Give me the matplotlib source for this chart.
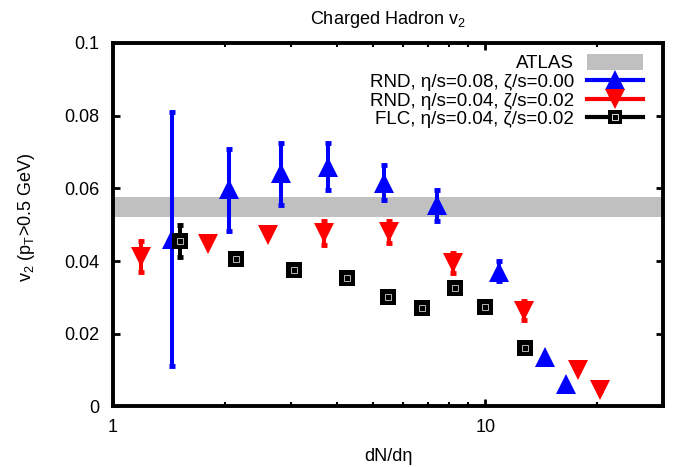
import matplotlib
matplotlib.use("Agg")
import matplotlib.pyplot as plt
from matplotlib.lines import Line2D
from matplotlib.patches import Patch
from matplotlib.legend_handler import HandlerTuple
import numpy as np

plt.rcParams['font.family'] = ['Liberation Sans', 'DejaVu Sans']
plt.rcParams['mathtext.fontset'] = 'custom'
plt.rcParams['mathtext.rm'] = 'Liberation Sans'
plt.rcParams['mathtext.it'] = 'Liberation Sans:italic'

# ATLAS band
atlas_lo, atlas_hi = 0.0522, 0.0576

# RND, eta/s=0.08, zeta/s=0.00
rnd1_x = [1.44, 2.05, 2.82, 3.78, 5.36, 7.42, 10.9, 14.5, 16.5]
rnd1_y = [0.046, 0.0597, 0.0641, 0.066, 0.0616, 0.0553, 0.0371, 0.0137, 0.0062]
rnd1_lo = [0.011, 0.0484, 0.0555, 0.0596, 0.0567, 0.0509, 0.0344, 0.0137, 0.0062]
rnd1_hi = [0.081, 0.0708, 0.0726, 0.0724, 0.0665, 0.0596, 0.0399, 0.0137, 0.0062]

# RND, eta/s=0.04, zeta/s=0.02
rnd2_x = [1.19, 1.80, 2.61, 3.68, 5.51, 8.21, 12.7, 17.7, 20.3]
rnd2_y = [0.0411, 0.0448, 0.0471, 0.0477, 0.0479, 0.0396, 0.0264, 0.0101, 0.0045]
rnd2_lo = [0.0369, 0.0448, 0.0471, 0.0445, 0.0449, 0.0368, 0.0238, 0.0101, 0.0045]
rnd2_hi = [0.0454, 0.0448, 0.0471, 0.0509, 0.0509, 0.0423, 0.0289, 0.0101, 0.0045]

# FLC, eta/s=0.04, zeta/s=0.02
flc_x = [1.51, 2.14, 3.06, 4.26, 5.48, 6.74, 8.31, 10.0, 12.8]
flc_y = [0.0456, 0.0405, 0.0376, 0.0353, 0.0302, 0.0270, 0.0325, 0.0275, 0.0162]
flc_lo = [0.0412, 0.0405, 0.0376, 0.0353, 0.0302, 0.0270, 0.0325, 0.0275, 0.0162]
flc_hi = [0.0498, 0.0405, 0.0376, 0.0353, 0.0302, 0.0270, 0.0325, 0.0275, 0.0162]

labels = ["ATLAS",
          "RND, η/s=0.08, ζ/s=0.00",
          "RND, η/s=0.04, ζ/s=0.02",
          "FLC, η/s=0.04, ζ/s=0.02"]

fig = plt.figure(figsize=(6.83, 4.67), dpi=100)
ax = fig.add_axes([0.1654, 0.1296, 0.8053, 0.7784])

ax.axhspan(atlas_lo, atlas_hi, color='#c0c0c0', lw=0, zorder=1)

def draw(x, y, lo, hi, color, marker, ms):
    y = np.array(y)
    err = [y - np.array(lo), np.array(hi) - y]
    ax.errorbar(x, y, yerr=err, fmt='none', ecolor=color, elinewidth=2.9,
                capsize=2.2, capthick=3.5, zorder=3)
    ax.plot(x, y, ls='none', marker=marker, color=color, ms=ms, mew=0, zorder=4)

draw(rnd1_x, rnd1_y, rnd1_lo, rnd1_hi, 'blue', '^', 15)
draw(rnd2_x, rnd2_y, rnd2_lo, rnd2_hi, 'red', 'v', 15)
draw(flc_x, flc_y, flc_lo, flc_hi, 'black', 's', 12)
ax.plot(flc_x, flc_y, ls='none', marker='s', ms=5, mfc='none', mec='white',
        mew=0.5, zorder=5)

ax.set_xscale('log')
ax.set_xlim(1, 30)
ax.set_ylim(0, 0.1)
ax.set_xticks([1, 10])
ax.set_xticklabels(['1', '10'])
ax.set_yticks([0, 0.02, 0.04, 0.06, 0.08, 0.1])
ax.set_yticklabels(['0', '0.02', '0.04', '0.06', '0.08', '0.1'])

for s in ax.spines.values():
    s.set_linewidth(2.8)
ax.tick_params(which='both', direction='in', top=True, right=True, labelsize=13)
ax.tick_params(which='major', length=5, width=2)
ax.tick_params(which='minor', length=3, width=1.5)
ax.tick_params(axis='x', which='major', pad=9)
ax.tick_params(axis='y', which='major', pad=10)
ax.xaxis.set_minor_formatter(matplotlib.ticker.NullFormatter())

ax.set_title("Charged Hadron v$_2$", fontsize=13, pad=14)
ax.set_xlabel("dN/dη", fontsize=13)
ax.set_ylabel("v$_2$ (p$_\\mathregular{T}$>0.5 GeV)", fontsize=13)
ax.xaxis.set_label_coords(0.5, -0.115)
ax.yaxis.set_label_coords(-0.138, 0.52)

handles = [Patch(facecolor='#c0c0c0', edgecolor='none'),
           Line2D([], [], color='blue', lw=3, marker='^', ms=14, mew=0),
           Line2D([], [], color='red', lw=3, marker='v', ms=14, mew=0),
           (Line2D([], [], color='black', lw=3, marker='s', ms=10, mew=0),
            Line2D([], [], ls='none', marker='s', ms=4, mfc='none',
                   mec='white', mew=0.6))]
ax.legend(handles, labels, loc='upper right', frameon=False, markerfirst=False,
          fontsize=13.5, handlelength=3.0, handleheight=0.9, handletextpad=0.7,
          labelspacing=0.02, borderaxespad=0.2, bbox_to_anchor=(0.985, 1.0),
          handler_map={tuple: HandlerTuple(ndivide=1, pad=0)})

fig.savefig("out.png", dpi=100)
